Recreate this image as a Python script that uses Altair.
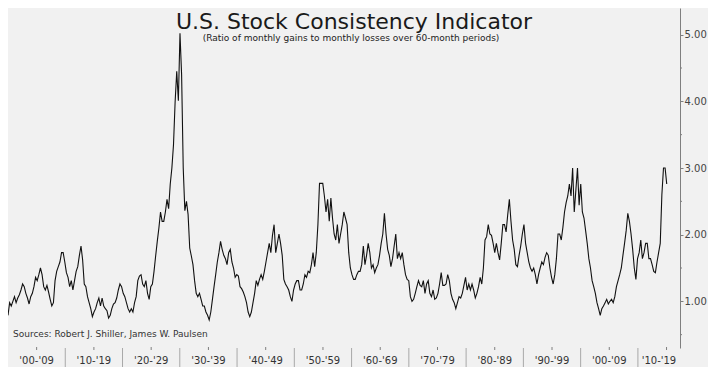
import altair as alt
import pandas as pd

# ---- data (one value every ~3.4 months from Jan 1900) ----
ratio_1900_1940 = [
    0.79, 0.98, 0.93, 1.00, 1.07, 0.98, 1.05, 1.10, 1.17, 1.26,
    1.22, 1.12, 1.05, 0.96, 1.07, 1.12, 1.22, 1.36, 1.31, 1.40,
    1.50, 1.40, 1.22, 1.17, 1.24, 1.14, 1.03, 0.93, 0.98, 1.31,
    1.45, 1.52, 1.59, 1.73, 1.73, 1.59, 1.43, 1.36, 1.22, 1.31,
    1.17, 1.31, 1.45, 1.52, 1.69, 1.83, 1.62, 1.26, 1.22, 1.07,
    0.98, 0.89, 0.77, 0.84, 0.89, 0.98, 1.05, 0.93, 1.05, 0.93,
    0.89, 0.86, 0.75, 0.79, 0.89, 0.96, 0.98, 1.05, 1.17, 1.26,
    1.22, 1.12, 1.07, 0.98, 0.89, 0.84, 0.89, 0.84, 0.98, 1.07,
    1.31, 1.38, 1.40, 1.26, 1.22, 1.31, 1.12, 1.03, 1.22, 1.26,
    1.45, 1.68, 1.90, 2.10, 2.34, 2.20, 2.20, 2.34, 2.53, 2.39,
    2.76, 3.00, 3.35, 3.99, 4.45, 4.01, 5.02, 4.40, 3.00, 2.36,
    2.50, 2.30, 1.80, 1.68, 1.55, 1.31, 1.12, 1.07, 1.12, 1.03,
    0.93, 0.93, 0.84, 0.79, 0.72, 0.84, 1.03, 1.22, 1.40, 1.59,
    1.73, 1.90, 1.78, 1.69, 1.64, 1.55, 1.73, 1.78, 1.59, 1.50,
    1.36, 1.40, 1.38, 1.22,
]
ratio_1940_1981 = [
    1.19, 1.14, 1.07, 0.98, 0.84, 0.77, 0.84, 0.98, 1.12, 1.31,
    1.24, 1.33, 1.40, 1.33, 1.45, 1.59, 1.73, 1.87, 1.73, 1.99,
    2.15, 1.73, 1.87, 2.01, 1.87, 1.69, 1.33, 1.26, 1.22, 1.17,
    1.07, 1.00, 1.17, 1.26, 1.31, 1.31, 1.17, 1.17, 1.26, 1.40,
    1.36, 1.45, 1.43, 1.55, 1.73, 1.52, 1.73, 2.15, 2.77, 2.77,
    2.77, 2.58, 2.34, 2.53, 2.20, 2.55, 2.25, 2.01, 1.92, 2.15,
    1.87, 2.01, 2.15, 2.34, 2.25, 2.15, 1.73, 1.50, 1.40, 1.33,
    1.33, 1.40, 1.45, 1.45, 1.55, 1.83, 1.55, 1.69, 1.87, 1.73,
    1.50, 1.55, 1.43, 1.50, 1.55, 1.69, 1.87, 2.01, 2.32, 2.01,
    1.78, 1.69, 1.52, 1.64, 1.83, 2.01, 1.64, 1.73, 1.64, 1.73,
    1.55, 1.40, 1.33, 1.31, 1.07, 1.00, 1.03, 1.12, 1.22, 1.31,
    1.24, 1.22, 1.31, 1.12, 1.26, 1.31, 1.12, 1.07, 1.17, 1.03,
    1.05, 1.12, 1.26, 1.43, 1.24, 1.24, 1.26, 1.40, 1.31, 1.12,
    1.03, 0.98, 0.89, 0.98, 1.07, 1.05, 1.12, 1.24, 1.36, 1.17,
    1.26, 1.17, 1.26, 1.17,
]
ratio_1981_2015 = [
    1.05, 1.12, 1.22, 1.36, 1.26, 1.50, 1.92, 1.97, 2.15, 2.01,
    1.99, 1.87, 1.73, 1.87, 1.73, 1.62, 1.87, 2.15, 2.15, 2.04,
    2.30, 2.53, 2.20, 1.92, 1.78, 1.55, 1.52, 1.69, 1.83, 2.01,
    2.15, 1.87, 1.73, 1.59, 1.50, 1.45, 1.50, 1.40, 1.26, 1.40,
    1.50, 1.59, 1.55, 1.66, 1.73, 1.69, 1.50, 1.36, 1.26, 1.40,
    1.64, 2.01, 2.01, 1.92, 2.11, 2.34, 2.48, 2.58, 2.76, 2.58,
    3.00, 2.34, 2.67, 3.00, 2.44, 2.76, 2.34, 2.25, 2.06, 1.87,
    1.64, 1.50, 1.31, 1.22, 1.12, 0.98, 0.89, 0.79, 0.89, 0.93,
    0.98, 1.03, 0.96, 1.00, 1.03, 0.98, 1.07, 1.22, 1.31, 1.40,
    1.50, 1.69, 1.87, 2.06, 2.32, 2.20, 2.01, 1.78, 1.50, 1.33,
    1.64, 1.73, 1.92, 1.64, 1.73, 1.87, 1.87, 1.64, 1.64, 1.55,
    1.45, 1.43, 1.59, 1.73, 1.87, 2.60, 3.00, 3.00, 2.76,
]
start_year = 1900
months_per_sample = 3.4

decade_starts = [1900, 1910, 1920, 1930, 1940, 1950, 1960, 1970, 1980, 1990, 2000, 2010]
decade_labels = ["'00-'09", "'10-'19", "'20-'29", "'30-'39", "'40-'49", "'50-'59",
                 "'60-'69", "'70-'79", "'80-'89", "'90-'99", "'00-'09", "'10-'19"]
y_major = [1, 2, 3, 4, 5]
y_minor = [0.5, 1.5, 2.5, 3.5, 4.5]

title_text = "U.S. Stock Consistency Indicator"
subtitle_text = "(Ratio of monthly gains to monthly losses over 60-month periods)"
source_text = "Sources: Robert J. Shiller, James W. Paulsen"

# ---- layout ----
X_MIN, X_MAX = 1900, 2017.35
Y_MIN, Y_MAX = 0.3, 5.4
W, H = 672, 340
BAND = 19
FONT = "DejaVu Sans"
BG = "#f1f1f1"

ratio = ratio_1900_1940 + ratio_1940_1981 + ratio_1981_2015
df = pd.DataFrame({
    "year": [start_year + i * months_per_sample / 12 for i in range(len(ratio))],
    "ratio": ratio,
})
sep_df = pd.DataFrame({"year": decade_starts[1:]})
mid_df = pd.DataFrame({"year": [s + 5 for s in decade_starts if s + 5 <= X_MAX]})
lab_df = pd.DataFrame({
    "year": [(s + min(s + 10, X_MAX)) / 2 for s in decade_starts],
    "label": decade_labels,
})
minor_df = pd.DataFrame({"ratio": y_minor})

xs = alt.Scale(domain=[X_MIN, X_MAX], nice=False, zero=False)
ys = alt.Scale(domain=[Y_MIN, Y_MAX], nice=False, zero=False)
y_axis = alt.Axis(
    orient="right", values=y_major, format=".2f", title=None, grid=False,
    tickSize=3, labelPadding=1, domainColor="#7f7f7f", tickColor="#7f7f7f",
    labelColor="#444444", labelFont=FONT, labelFontSize=10)

line = alt.Chart(df).mark_line(color="#111111", strokeWidth=1.1).encode(
    x=alt.X("year:Q", scale=xs, axis=None),
    y=alt.Y("ratio:Q", scale=ys, axis=y_axis),
)

minor = alt.Chart(minor_df).mark_rule(color="#7f7f7f").encode(
    y=alt.Y("ratio:Q", scale=ys, axis=y_axis),
    x=alt.value(W), x2=alt.value(W + 2),
)

seps = alt.Chart(sep_df).mark_rule(color="#a8a8a8").encode(
    x=alt.X("year:Q", scale=xs, axis=None),
    y=alt.value(H), y2=alt.value(H + BAND),
)

mids = alt.Chart(mid_df).mark_rule(color="#7f7f7f").encode(
    x=alt.X("year:Q", scale=xs, axis=None),
    y=alt.value(H - 1), y2=alt.value(H + 2),
)

labels = alt.Chart(lab_df).mark_text(
    font=FONT, fontSize=10, color="#333333", baseline="middle", align="center"
).encode(
    x=alt.X("year:Q", scale=xs, axis=None),
    y=alt.value(H + 13),
    text="label:N",
)

title = alt.Chart(pd.DataFrame({"t": [title_text]})).mark_text(
    font=FONT, fontSize=22, color="#1a1a1a", align="center", baseline="alphabetic"
).encode(x=alt.value(346), y=alt.value(21), text="t:N")

subtitle = alt.Chart(pd.DataFrame({"t": [subtitle_text]})).mark_text(
    font=FONT, fontSize=9, color="#222222", align="center", baseline="alphabetic"
).encode(x=alt.value(343), y=alt.value(33), text="t:N")

source = alt.Chart(pd.DataFrame({"t": [source_text]})).mark_text(
    font=FONT, fontSize=9, color="#333333", align="left", baseline="middle"
).encode(x=alt.value(5), y=alt.value(H - 14), text="t:N")

chart = alt.layer(line, minor, seps, mids, labels, title, subtitle, source).properties(
    width=W, height=H,
    autosize=alt.AutoSizeParams(type="none"),
    padding={"left": 0, "top": 0, "right": 28, "bottom": BAND},
).configure(background=BG).configure_view(strokeWidth=0)

chart.save("out.html", embed_options={"renderer": "svg", "actions": False})
